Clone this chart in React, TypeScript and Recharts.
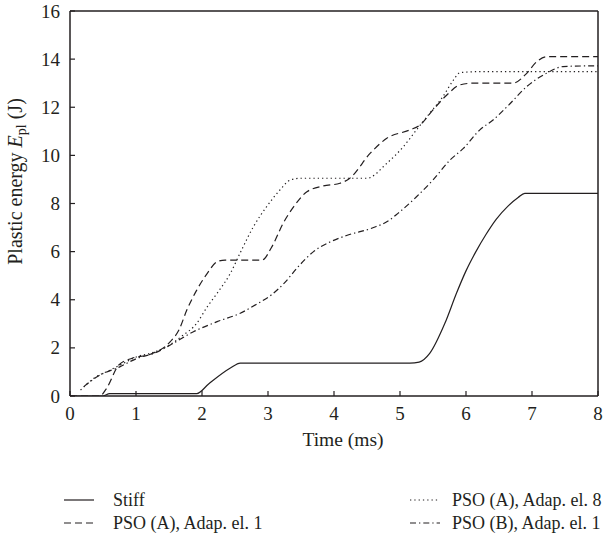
import React from 'react';
import { LineChart, Line, XAxis, YAxis } from 'recharts';

// ---- data ----
const stiffT = [0, 0.5, 0.6, 1.0, 1.5, 1.92, 2.1, 2.43, 2.58, 3.5, 4.5, 5.15, 5.29, 5.45, 5.68, 5.86, 6.0, 6.15, 6.3, 6.46, 6.64, 6.79, 6.89, 7.5, 8.0];
const stiffE = [0, 0, 0.1, 0.1, 0.1, 0.1, 0.5, 1.16, 1.37, 1.37, 1.37, 1.37, 1.41, 1.77, 3.02, 4.3, 5.2, 6.0, 6.7, 7.35, 7.9, 8.25, 8.42, 8.42, 8.42];

const psoA1T = [0, 0.45, 0.55, 0.74, 0.94, 1.2, 1.52, 1.65, 1.77, 1.92, 2.08, 2.23, 2.35, 2.6, 2.91, 3.06, 3.23, 3.39, 3.59, 3.84, 4.09, 4.24, 4.55, 4.8, 5.15, 5.3, 5.5, 5.71, 5.91, 6.1, 6.71, 6.92, 7.07, 7.22, 8.0];
const psoA1E = [0, 0, 0.3, 1.29, 1.57, 1.72, 2.26, 2.74, 3.57, 4.4, 5.1, 5.58, 5.65, 5.65, 5.65, 6.21, 7.18, 7.87, 8.49, 8.73, 8.84, 9.05, 10.09, 10.71, 11.06, 11.26, 11.89, 12.51, 12.93, 13.0, 13.0, 13.41, 13.89, 14.1, 14.1];

const psoA8T = [0.16, 0.36, 0.61, 0.81, 1.02, 1.25, 1.5, 1.7, 1.92, 2.08, 2.23, 2.43, 2.6, 2.78, 2.98, 3.18, 3.34, 3.5, 4.0, 4.5, 4.8, 5.05, 5.25, 5.45, 5.65, 5.81, 5.91, 6.2, 7.0, 8.0];
const psoA8E = [0.25, 0.73, 1.08, 1.36, 1.64, 1.8, 2.1, 2.5, 3.02, 3.71, 4.27, 5.1, 6.07, 7.04, 7.87, 8.56, 8.98, 9.05, 9.05, 9.05, 9.67, 10.36, 11.06, 11.75, 12.44, 13.13, 13.44, 13.48, 13.48, 13.48];

const psoB1T = [0.21, 0.41, 0.76, 1.02, 1.27, 1.52, 1.87, 2.23, 2.58, 2.83, 3.05, 3.25, 3.45, 3.69, 3.94, 4.19, 4.6, 4.8, 5.0, 5.25, 5.5, 5.76, 5.96, 6.21, 6.41, 6.65, 6.92, 7.22, 7.47, 7.92, 8.0];
const psoB1E = [0.39, 0.8, 1.22, 1.57, 1.77, 2.12, 2.67, 3.09, 3.44, 3.82, 4.2, 4.7, 5.35, 6.0, 6.4, 6.67, 7.0, 7.24, 7.66, 8.28, 8.98, 9.81, 10.29, 11.06, 11.47, 12.1, 12.86, 13.41, 13.69, 13.72, 13.72];

const xTicks = [0, 1, 2, 3, 4, 5, 6, 7, 8];
const yTicks = [0, 2, 4, 6, 8, 10, 12, 14, 16];
const seriesNames = ['Stiff', 'PSO (A), Adap. el. 1', 'PSO (A), Adap. el. 8', 'PSO (B), Adap. el. 1'];
const xLabel = 'Time (ms)';

const toRows = (ts: number[], es: number[]) => ts.map((t, i) => ({ t, e: es[i] }));

const FONT = '"Liberation Serif", "Times New Roman", serif';
const INK = '#231f20';
const TICK = 5;
const TICK_FS = 19;

const series = [
  { name: seriesNames[0], data: toRows(stiffT, stiffE), dash: undefined as string | undefined },
  { name: seriesNames[1], data: toRows(psoA1T, psoA1E), dash: '7 4' },
  { name: seriesNames[2], data: toRows(psoA8T, psoA8E), dash: '1.3 3' },
  { name: seriesNames[3], data: toRows(psoB1T, psoB1E), dash: '6 3 1.3 3' },
];

const BottomTick = (p: any) => (
  <g>
    <line x1={p.x} x2={p.x} y1={p.y} y2={p.y - TICK} stroke={INK} strokeWidth={1.2} />
    <text x={p.x} y={p.y + 24} textAnchor="middle" fontFamily={FONT} fontSize={TICK_FS} fill={INK}>{p.payload.value}</text>
  </g>
);
const TopTick = (p: any) => (
  <line x1={p.x} x2={p.x} y1={p.y} y2={p.y + TICK} stroke={INK} strokeWidth={1.2} />
);
const LeftTick = (p: any) => (
  <g>
    <line x1={p.x} x2={p.x + TICK} y1={p.y} y2={p.y} stroke={INK} strokeWidth={1.2} />
    <text x={p.x - 10} y={p.y + 6.5} textAnchor="end" fontFamily={FONT} fontSize={TICK_FS} fill={INK}>{p.payload.value}</text>
  </g>
);
const RightTick = (p: any) => (
  <line x1={p.x} x2={p.x - TICK} y1={p.y} y2={p.y} stroke={INK} strokeWidth={1.2} />
);

const YLabel = (props: any) => {
  const vb = props.viewBox;
  const cx = vb.x + vb.width - 48;
  const cy = vb.y + vb.height / 2 - 22;
  return (
    <text transform={`translate(${cx},${cy}) rotate(-90)`} textAnchor="middle" fontFamily={FONT} fontSize={20} fill={INK}>
      <tspan>Plastic energy </tspan>
      <tspan fontStyle="italic">E</tspan>
      <tspan fontSize={14} dy={4}>pl</tspan>
      <tspan dy={-4}> (J)</tspan>
    </text>
  );
};

const XLabel = (props: any) => {
  const vb = props.viewBox;
  return (
    <text x={vb.x + vb.width / 2 + 9} y={vb.y + 50} textAnchor="middle" fontFamily={FONT} fontSize={19.5} fill={INK}>{xLabel}</text>
  );
};

const legendOrder = [0, 2, 1, 3];

function LegendBlock() {
  return (
    <div style={{ position: 'absolute', left: 0, top: 489, width: 603, fontFamily: FONT, fontSize: 18, color: INK }}>
      {legendOrder.map((idx, k) => {
        const s = series[idx];
        const col = k % 2;
        const row = Math.floor(k / 2);
        return (
          <div key={s.name} style={{ position: 'absolute', left: col === 0 ? 64 : 410, top: row * 23, display: 'flex', alignItems: 'center', height: 22, whiteSpace: 'nowrap' }}>
            <svg width={30} height={10} style={{ marginRight: col === 0 ? 19 : 12 }}>
              <line x1={0} x2={30} y1={5} y2={5} stroke={INK} strokeWidth={1.2} strokeDasharray={s.dash} />
            </svg>
            <span>{s.name}</span>
          </div>
        );
      })}
    </div>
  );
}

export default function App() {
  return (
    <div style={{ position: 'absolute', left: 0, top: 0, width: 603, height: 535, background: '#fff' }}>
      <LineChart width={603} height={535} margin={{ top: 10, right: 4, bottom: 109, left: 0 }}>
        <XAxis type="number" dataKey="t" domain={[0, 8]} ticks={xTicks} allowDataOverflow height={30}
          axisLine={{ stroke: INK, strokeWidth: 1.5 }} tickLine={false} tickSize={0} tickMargin={0}
          tick={<BottomTick />} interval={0} label={<XLabel />} />
        <XAxis xAxisId="top" orientation="top" type="number" dataKey="t" domain={[0, 8]} ticks={xTicks} height={1}
          axisLine={{ stroke: INK, strokeWidth: 1.5 }} tickLine={false} tickSize={0} tickMargin={0}
          tick={<TopTick />} interval={0} />
        <YAxis type="number" domain={[0, 16]} ticks={yTicks} width={70} allowDataOverflow
          axisLine={{ stroke: INK, strokeWidth: 1.5 }} tickLine={false} tickSize={0} tickMargin={0}
          tick={<LeftTick />} interval={0} label={<YLabel />} />
        <YAxis yAxisId="right" orientation="right" type="number" domain={[0, 16]} ticks={yTicks} width={1}
          axisLine={{ stroke: INK, strokeWidth: 1.5 }} tickLine={false} tickSize={0} tickMargin={0}
          tick={<RightTick />} interval={0} />
        {series.map((s) => (
          <Line key={s.name} name={s.name} data={s.data} dataKey="e" type="monotone" stroke={INK}
            strokeWidth={1.2} strokeDasharray={s.dash} dot={false} activeDot={false} isAnimationActive={false} />
        ))}
      </LineChart>
      <LegendBlock />
    </div>
  );
}
